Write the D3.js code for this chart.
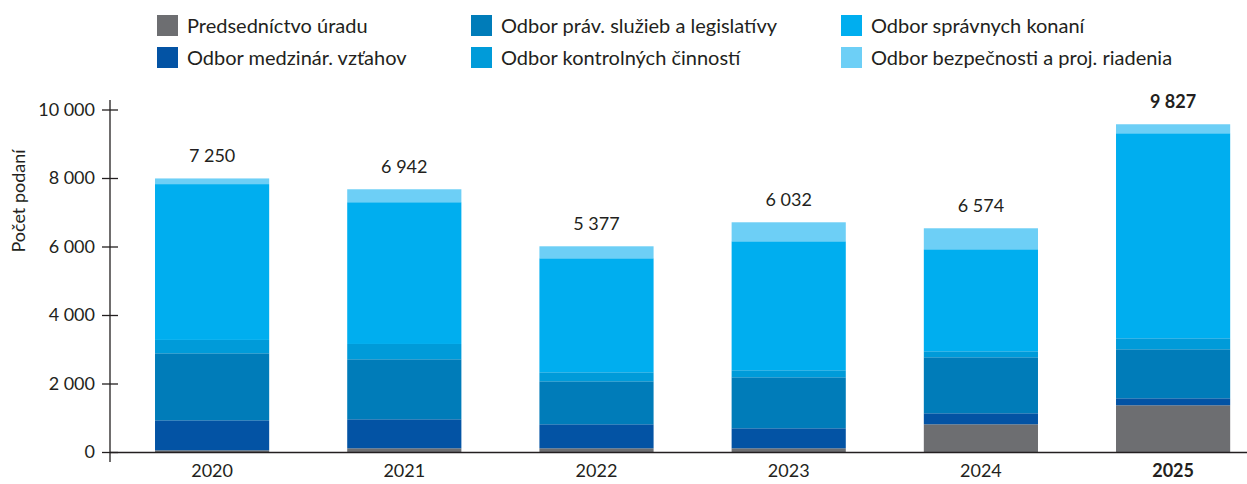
<!DOCTYPE html>
<html><head><meta charset="utf-8">
<script src="https://cdn.jsdelivr.net/npm/d3@7"></script>
<style>
body{margin:0;background:#fff;}
text{font-family:Lato,"Noto Sans",sans-serif;fill:#231f20;}
</style></head>
<body><svg id="c" width="1247" height="484"></svg>
<script>
const years = ["2020","2021","2022","2023","2024","2025"];
const totalLabels = ["7 250","6 942","5 377","6 032","6 574","9 827"];
const seriesNames = ["Predsedníctvo úradu","Odbor medzinár. vzťahov","Odbor práv. služieb a legislatívy","Odbor kontrolných činností","Odbor správnych konaní","Odbor bezpečnosti a proj. riadenia"];
const seriesColors = ["#6d6e71","#0353a4","#007cb9","#009bd9","#00aeef","#6dcff6"];
const predsednictvo = [50,108,108,108,809,1364];
const medzinar = [875,847,701,584,321,204];
const pravSluzieb = [1957,1752,1255,1489,1635,1431];
const kontrolnych = [390,447,263,205,175,321];
const spravnych = [4550,4139,3329,3766,2979,5986];
const bezpecnosti = [165,378,350,555,613,263];
const yTicks = [0,2000,4000,6000,8000,10000];

const seriesValues = [predsednictvo,medzinar,pravSluzieb,kontrolnych,spravnych,bezpecnosti];
const rows = years.map((y,i)=>{const r={year:y};seriesNames.forEach((n,k)=>r[n]=seriesValues[k][i]);return r;});
const stack = d3.stack().keys(seriesNames)(rows);

const svg = d3.select("#c");
const y = d3.scaleLinear().domain([0,10000]).range([452,109.5]);
const x = d3.scaleBand().domain(years).range([116,1269.2]).paddingInner(0.406).paddingOuter(0.203);

// bars
svg.append("g").selectAll("g").data(stack).join("g")
  .attr("fill",(d,i)=>seriesColors[i])
  .selectAll("rect").data(d=>d).join("rect")
  .attr("x",d=>x(d.data.year)).attr("width",x.bandwidth())
  .attr("y",d=>y(d[1])).attr("height",d=>y(d[0])-y(d[1]));

// totals
const tops = stack[stack.length-1];
svg.append("g").selectAll("text").data(years).join("text")
  .attr("x",d=>x(d)+x.bandwidth()/2).attr("y",(d,i)=>y(tops[i][1])-16)
  .attr("text-anchor","middle").style("font-size","18px")
  .style("font-weight",(d,i)=>i===years.length-1?"700":"400")
  .text((d,i)=>totalLabels[i]);

// x axis
svg.append("line").attr("x1",110).attr("x2",1247).attr("y1",452.5).attr("y2",452.5).attr("stroke","#231f20").attr("stroke-width",1.3);
svg.append("g").selectAll("text").data(years).join("text")
  .attr("x",d=>x(d)+x.bandwidth()/2).attr("y",477)
  .attr("text-anchor","middle").style("font-size","18px")
  .style("font-weight",(d,i)=>i===years.length-1?"700":"400")
  .text(d=>d);

// y axis
const fmt = v=>d3.format(",")(v).replace(/,/g," ");
const ya = svg.append("g").attr("transform","translate(110,0)")
  .call(d3.axisLeft(y).tickValues(yTicks).tickFormat(fmt).tickSize(8).tickPadding(7));
ya.select(".domain").remove();
ya.append("line").attr("x1",0).attr("x2",0).attr("y1",100).attr("y2",462).attr("stroke","#231f20").attr("stroke-width",1.3);
ya.selectAll(".tick line").attr("x2",8).attr("x1",-8).attr("stroke","#231f20").attr("stroke-width",1.3);
ya.selectAll(".tick text").style("font-size","18px").style("font-family","Lato,'Noto Sans',sans-serif").attr("fill","#231f20");

svg.append("text").attr("transform","translate(25,201) rotate(-90)")
  .attr("text-anchor","middle").style("font-size","18px").text("Počet podaní");

// legend
const legendOrder = [0,2,4,1,3,5];
const lg = svg.append("g").selectAll("g").data(legendOrder).join("g")
  .attr("transform",(k,j)=>`translate(${[157,471,841][j%3]},${j<3?15:47})`);
lg.append("rect").attr("width",21).attr("height",21).attr("fill",k=>seriesColors[k]);
lg.append("text").attr("x",30).attr("y",17.5).style("font-size","20px").text(k=>seriesNames[k]);
</script></body></html>
